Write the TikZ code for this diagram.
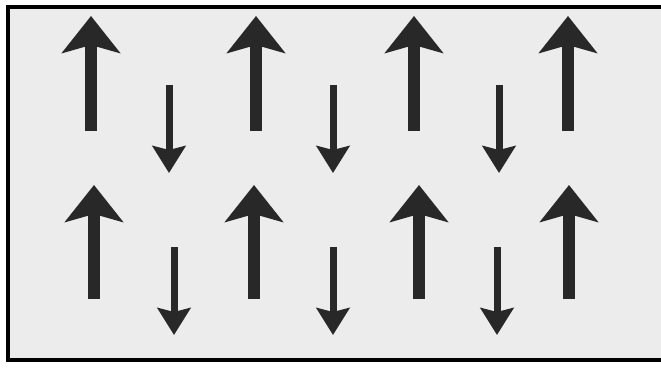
\documentclass[tikz,border=0pt]{standalone}
\usetikzlibrary{arrows.meta}
\definecolor{bgfill}{RGB}{236,236,236}
\definecolor{arrowcol}{RGB}{40,40,40}
\tikzset{
  bigup/.style={draw=arrowcol, line width=12pt, -{Stealth[length=37pt, width=58pt, inset=8pt]}},
  smalldown/.style={draw=arrowcol, line width=7pt, -{Stealth[length=27pt, width=33pt, inset=4pt]}},
  frame/.style={draw=black, line width=4pt, fill=bgfill}
}
\begin{document}
\begin{tikzpicture}[x=1pt,y=-1pt]
\useasboundingbox (0,0) rectangle (661,369);
\fill[white] (0,0) rectangle (661,369);
\draw[frame] (8,7) rectangle (666,360);
% top row, up arrows
\foreach \n/\x in {1/91,2/256,3/414,4/568}{
  \coordinate (tus\n) at (\x,131);
  \coordinate (tue\n) at (\x,16);
  \draw[bigup] (tus\n) -- (tue\n);
}
% top row, down arrows
\foreach \n/\x in {1/169,2/333,3/499}{
  \coordinate (tds\n) at (\x,85);
  \coordinate (tde\n) at (\x,173);
  \draw[smalldown] (tds\n) -- (tde\n);
}
% bottom row, up arrows
\foreach \n/\x in {1/94,2/254,3/419,4/569}{
  \coordinate (bus\n) at (\x,299);
  \coordinate (bue\n) at (\x,185);
  \draw[bigup] (bus\n) -- (bue\n);
}
% bottom row, down arrows
\foreach \n/\x in {1/174,2/333,3/497}{
  \coordinate (bds\n) at (\x,247);
  \coordinate (bde\n) at (\x,335);
  \draw[smalldown] (bds\n) -- (bde\n);
}
\end{tikzpicture}
\end{document}
